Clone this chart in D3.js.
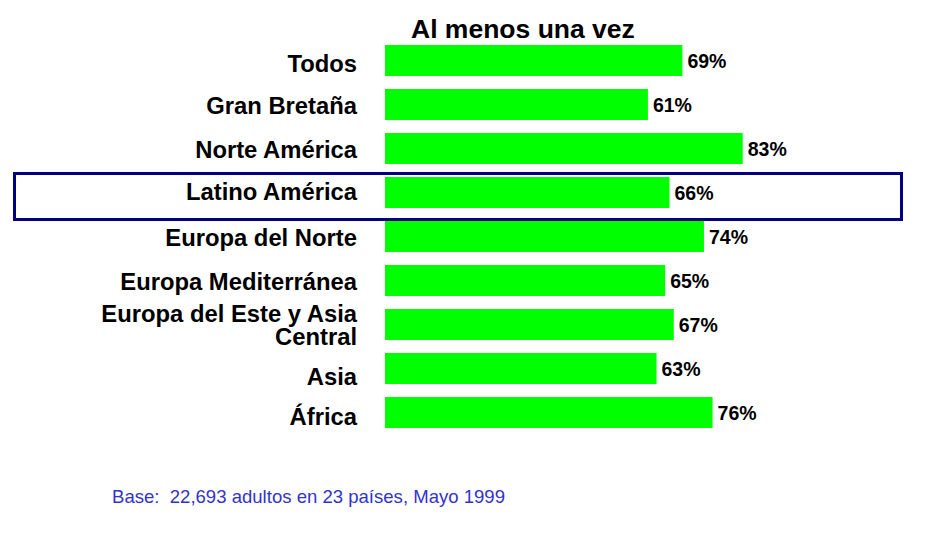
<!DOCTYPE html>
<html>
<head>
<meta charset="utf-8">
<script src="https://cdn.jsdelivr.net/npm/d3@7"></script>
<style>
  body { margin: 0; background: #fff; }
  text { font-family: "Liberation Sans", Arial, sans-serif; }
</style>
</head>
<body>
<div id="viz"></div>
<script>
// regions, top to bottom; "\n" splits a label over two lines
const regions = [
  "Todos",
  "Gran Bretaña",
  "Norte América",
  "Latino América",
  "Europa del Norte",
  "Europa Mediterránea",
  "Europa del Este y Asia\nCentral",
  "Asia",
  "África"
];
// share who did it at least once (%)
const values = [69, 61, 83, 66, 74, 65, 67, 63, 76];
const highlighted = "Latino América";
const chartTitle = "Al menos una vez";
const footnote = "Base:  22,693 adultos en 23 países, Mayo 1999";

// small vertical nudges for a few region labels (layout only)
const labelNudge = { "Todos": 2.5, "Latino América": -2, "Asia": 7, "África": 3 };

const width = 930, height = 546;

const svg = d3.select("#viz")
  .append("svg")
  .attr("width", width)
  .attr("height", height);

// scales: 0 sits at the bars' left edge
const x = d3.scaleLinear()
  .domain([0, 100])
  .range([385, 816]);

const y = d3.scaleBand()
  .domain(regions)
  .range([38.5, 434.5])
  .paddingInner(13 / 44)
  .paddingOuter(6.5 / 44);

const rows = regions.map((r, i) => ({ region: r, value: values[i] }));

// highlight box round one row
svg.append("rect")
  .attr("x", 14.5)
  .attr("y", y(highlighted) - 3.5)
  .attr("width", 887)
  .attr("height", 46)
  .attr("fill", "none")
  .attr("stroke", "#000080")
  .attr("stroke-width", 3);

// title
svg.append("text")
  .attr("x", 411)
  .attr("y", 38)
  .style("font-size", "26.5px")
  .style("font-weight", "bold")
  .attr("fill", "#000")
  .text(chartTitle);

// bars
svg.selectAll("rect.bar")
  .data(rows)
  .enter()
  .append("rect")
  .attr("class", "bar")
  .attr("x", x(0))
  .attr("y", d => y(d.region))
  .attr("width", d => x(d.value) - x(0))
  .attr("height", y.bandwidth())
  .attr("fill", "#00ff00");

// value labels
svg.selectAll("text.value")
  .data(rows)
  .enter()
  .append("text")
  .attr("class", "value")
  .attr("x", d => x(d.value) + 5)
  .attr("y", d => y(d.region) + y.bandwidth() / 2 + 7)
  .style("font-size", "19.5px")
  .style("font-weight", "bold")
  .attr("fill", "#000")
  .text(d => d.value + "%");

// region labels, right aligned
const labels = svg.selectAll("text.region")
  .data(rows)
  .enter()
  .append("text")
  .attr("class", "region")
  .attr("text-anchor", "end")
  .style("font-size", "23.8px")
  .style("font-weight", "bold")
  .attr("fill", "#000");

labels.each(function(d) {
  const lines = d.region.split("\n");
  const mid = y(d.region) + y.bandwidth() / 2;
  const first = lines.length > 1 ? mid - 2.8 : mid + 9 + (labelNudge[d.region] || 0);
  lines.forEach((line, i) => {
    d3.select(this).append("tspan")
      .attr("x", 357)
      .attr("y", first + i * 23.3)
      .text(line);
  });
});

// footnote
svg.append("text")
  .attr("x", 112)
  .attr("y", 503)
  .style("font-size", "19px")
  .style("white-space", "pre")
  .attr("fill", "#3333cc")
  .attr("textLength", 393)
  .attr("lengthAdjust", "spacingAndGlyphs")
  .text(footnote);
</script>
</body>
</html>
